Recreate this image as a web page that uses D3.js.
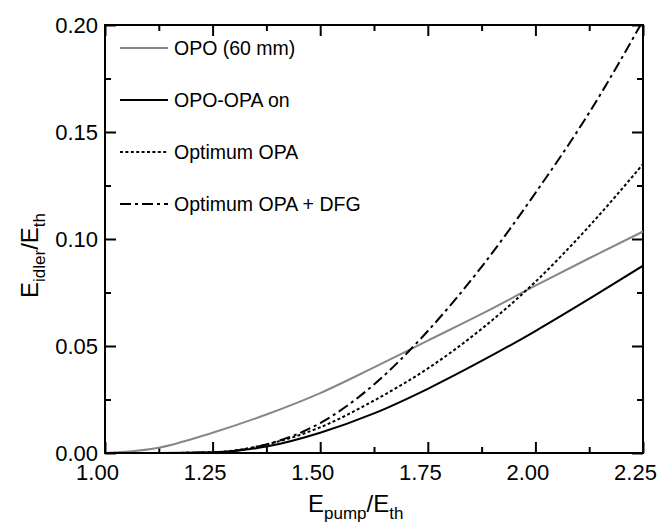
<!DOCTYPE html>
<html>
<head>
<meta charset="utf-8">
<script src="https://cdn.jsdelivr.net/npm/d3@7"></script>
<style>
  body { margin: 0; background: #fff; }
  svg { display: block; font-family: "Liberation Sans", Arial, sans-serif; }
</style>
</head>
<body>
<div id="chart"></div>
<script>
// values
const xPump = [1.0, 1.125, 1.25, 1.375, 1.5, 1.625, 1.75, 1.875, 2.0, 2.125, 2.25];
const opo60 = [0, 0.0025, 0.0095, 0.018, 0.028, 0.040, 0.0525, 0.065, 0.0782, 0.091, 0.1035];
const opoOpaOn = [0, 0, 0.0003, 0.003, 0.0095, 0.0185, 0.030, 0.043, 0.057, 0.072, 0.0875];
const optimumOpa = [0, 0, 0.0003, 0.004, 0.012, 0.0245, 0.0395, 0.058, 0.080, 0.106, 0.135];
const optimumOpaDfg = [0, 0, 0.0003, 0.004, 0.014, 0.032, 0.057, 0.087, 0.1215, 0.159, 0.202];

const seriesNames = ["OPO (60 mm)", "OPO-OPA on", "Optimum OPA", "Optimum OPA + DFG"];
const xTicks = [1.0, 1.25, 1.5, 1.75, 2.0, 2.25];
const yTicks = [0, 0.05, 0.10, 0.15, 0.20];

(function chart() {
  let width = 658,
      height = 525,
      margin = ({ top: 25, right: 15, bottom: 73, left: 105 });

  const svg = d3.select("#chart")
    .append("svg")
    .attr("width", width)
    .attr("height", height);

  let x = d3.scaleLinear()
    .domain([1.0, 2.25])
    .range([margin.left, width - margin.right]);

  let y = d3.scaleLinear()
    .domain([0, 0.20])
    .range([height - margin.bottom + 1, margin.top]);

  const x0 = x.range()[0], x1 = x.range()[1];
  const y0 = y.range()[0], y1 = y.range()[1];

  const xMinor = d3.range(1.125, 2.25, 0.25);
  const yMinor = d3.range(0.025, 0.2, 0.05);

  // inward ticks on all four sides
  function ticks(axis, scale, vals, size) {
    return axis(scale).tickValues(vals).tickSizeInner(-size).tickSizeOuter(0).tickFormat("");
  }
  const tickLayers = [
    [d3.axisBottom, x, `translate(0,${y0})`],
    [d3.axisTop, x, `translate(0,${y1})`],
    [d3.axisLeft, y, `translate(${x0},0)`],
    [d3.axisRight, y, `translate(${x1},0)`]
  ];
  tickLayers.forEach(([axis, scale, tr]) => {
    const major = scale === x ? xTicks : yTicks;
    const minor = scale === x ? xMinor : yMinor;
    [[major, 11], [minor, 6]].forEach(([vals, size]) => {
      svg.append("g")
        .attr("transform", tr)
        .call(ticks(axis, scale, vals, size))
        .call(g => g.select(".domain").remove())
        .call(g => g.selectAll("line").attr("stroke", "#000").attr("stroke-width", 2));
    });
  });

  // tick labels
  svg.append("g")
    .attr("transform", `translate(0,${y0})`)
    .call(d3.axisBottom(x).tickValues(xTicks).tickSize(0).tickFormat(d3.format(".2f")))
    .call(g => g.select(".domain").remove())
    .call(g => g.selectAll("text")
      .attr("y", 27).attr("dy", 0).attr("dx", -8)
      .attr("font-size", 22).attr("font-family", "Liberation Sans, Arial, sans-serif").attr("fill", "#000"));

  svg.append("g")
    .attr("transform", `translate(${x0},0)`)
    .call(d3.axisLeft(y).tickValues(yTicks).tickSize(0).tickPadding(7).tickFormat(d3.format(".2f")))
    .call(g => g.select(".domain").remove())
    .call(g => g.selectAll("text")
      .attr("dy", "0.32em")
      .attr("font-size", 22).attr("font-family", "Liberation Sans, Arial, sans-serif").attr("fill", "#000"));

  // frame
  svg.append("rect")
    .attr("x", x0).attr("y", y1)
    .attr("width", x1 - x0).attr("height", y0 - y1)
    .attr("fill", "none").attr("stroke", "#000").attr("stroke-width", 2);

  svg.append("clipPath").attr("id", "plot-clip")
    .append("rect")
    .attr("x", x0).attr("y", y1 - 1)
    .attr("width", x1 - x0).attr("height", y0 - y1 + 1);

  const series = [
    { name: seriesNames[0], values: opo60, color: "#878787", dash: null },
    { name: seriesNames[1], values: opoOpaOn, color: "#000", dash: null },
    { name: seriesNames[2], values: optimumOpa, color: "#000", dash: "3,2.4" },
    { name: seriesNames[3], values: optimumOpaDfg, color: "#000", dash: "11,4,3,4" }
  ];

  const line = d3.line()
    .x((d, i) => x(xPump[i]))
    .y(d => y(d))
    .curve(d3.curveMonotoneX);

  svg.append("g")
    .attr("clip-path", "url(#plot-clip)")
    .selectAll("path")
    .data(series)
    .join("path")
    .attr("d", d => line(d.values))
    .attr("fill", "none")
    .attr("stroke", d => d.color)
    .attr("stroke-width", 2)
    .attr("stroke-dasharray", d => d.dash);

  // legend
  const legend = svg.append("g")
    .selectAll("g")
    .data(series)
    .join("g")
    .attr("transform", (d, i) => `translate(120,${48 + i * 52})`);

  legend.append("line")
    .attr("x1", 0).attr("x2", 48)
    .attr("stroke", d => d.color)
    .attr("stroke-width", 2)
    .attr("stroke-dasharray", d => d.dash);

  legend.append("text")
    .attr("x", 54)
    .attr("y", 7)
    .attr("font-size", 19.5)
    .text(d => d.name);

  // axis titles
  const xt = svg.append("text")
    .attr("x", 308).attr("y", 512)
    .attr("font-size", 24);
  xt.append("tspan").text("E");
  xt.append("tspan").attr("font-size", 17).attr("dy", 7).text("pump");
  xt.append("tspan").attr("dy", -7).text("/E");
  xt.append("tspan").attr("font-size", 17).attr("dy", 7).text("th");

  const yt = svg.append("text")
    .attr("transform", "translate(38,298) rotate(-90)")
    .attr("font-size", 24);
  yt.append("tspan").text("E");
  yt.append("tspan").attr("font-size", 17).attr("dy", 7).text("idler");
  yt.append("tspan").attr("dy", -7).text("/E");
  yt.append("tspan").attr("font-size", 17).attr("dy", 7).text("th");
})();
</script>
</body>
</html>
